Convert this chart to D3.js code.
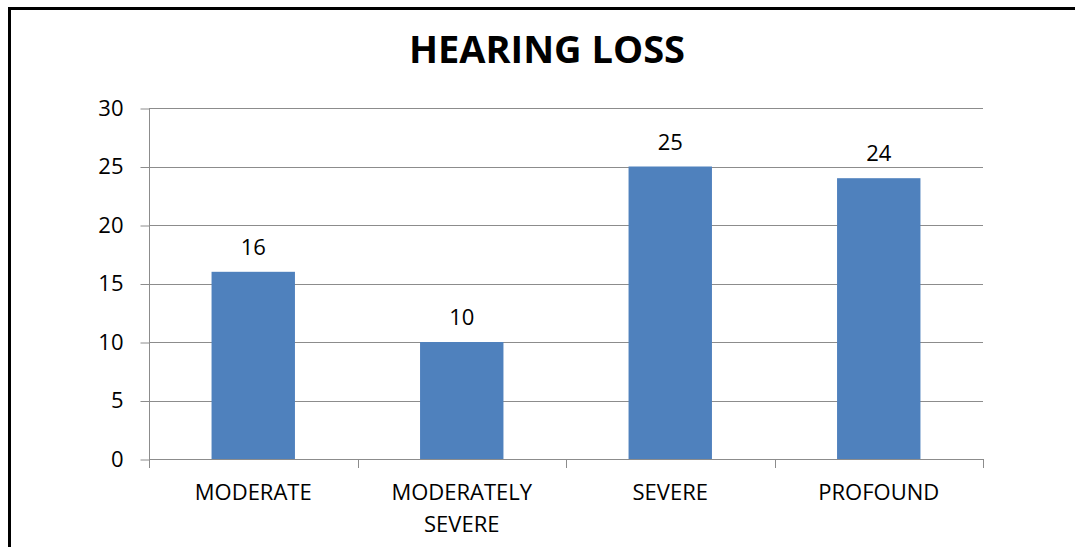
<!DOCTYPE html>
<html>
<head>
<meta charset="utf-8">
<script src="https://cdn.jsdelivr.net/npm/d3@7"></script>
<style>
  html, body { margin: 0; padding: 0; background: #fff; }
  svg { display: block; }
  text { font-family: "Open Sans", "Noto Sans", sans-serif; fill: #000; }
</style>
</head>
<body>
<svg id="chart" width="1075" height="547"></svg>
<script>
const title = "HEARING LOSS";
const categories = ["MODERATE", "MODERATELY SEVERE", "SEVERE", "PROFOUND"];
const values = [16, 10, 25, 24];
const yTicks = [0, 5, 10, 15, 20, 25, 30];

const svg = d3.select("#chart");
const W = 1075, H = 547;
const plot = { left: 149, right: 983, top: 108, bottom: 459 };

// frame
svg.append("line").attr("x1", 9.5).attr("x2", 9.5).attr("y1", 7).attr("y2", H)
  .attr("stroke", "#000").attr("stroke-width", 3);
svg.append("line").attr("x1", 8).attr("x2", W).attr("y1", 8.5).attr("y2", 8.5)
  .attr("stroke", "#000").attr("stroke-width", 3);

// title
svg.append("text").attr("x", 547).attr("y", 63)
  .attr("text-anchor", "middle")
  .style("font-size", "38px").style("font-weight", "bold")
  .text(title);

const x = d3.scaleBand().domain(categories)
  .range([plot.left, plot.right]).paddingInner(0.6).paddingOuter(0.3);
const y = d3.scaleLinear().domain([0, 30]).range([plot.bottom, plot.top]);

const gridColor = "#8c8c8c";

// gridlines
svg.append("g").selectAll("line").data(yTicks.filter(d => d > 0)).join("line")
  .attr("x1", plot.left).attr("x2", plot.right)
  .attr("y1", d => Math.round(y(d)) + 0.5).attr("y2", d => Math.round(y(d)) + 0.5)
  .attr("stroke", gridColor).attr("stroke-width", 1);

// y axis
const yAxis = d3.axisLeft(y).tickValues(yTicks).tickSize(9).tickPadding(17);
const gy = svg.append("g").attr("transform", `translate(${plot.left + 0.5},0.5)`).call(yAxis);
gy.select(".domain").remove();
gy.selectAll(".tick line").attr("stroke", gridColor);
gy.selectAll(".tick text").style("font-size", "22px").attr("fill", "#000")
  .style("font-family", '"Open Sans", sans-serif').attr("dy", "0.35em").attr("y", -1);
svg.append("line").attr("x1", plot.left + 0.5).attr("x2", plot.left + 0.5)
  .attr("y1", plot.top).attr("y2", plot.bottom + 9).attr("stroke", gridColor);

// x axis
svg.append("line").attr("x1", plot.left).attr("x2", plot.right)
  .attr("y1", plot.bottom + 0.5).attr("y2", plot.bottom + 0.5).attr("stroke", gridColor);
const boundaries = d3.range(categories.length + 1).map(i => plot.left + i * x.step());
svg.append("g").selectAll("line").data(boundaries.slice(1)).join("line")
  .attr("x1", d => Math.round(d) + 0.5).attr("x2", d => Math.round(d) + 0.5)
  .attr("y1", plot.bottom).attr("y2", plot.bottom + 9).attr("stroke", gridColor);

// bars
svg.append("g").selectAll("rect").data(values).join("rect")
  .attr("x", (d, i) => x(categories[i]))
  .attr("width", x.bandwidth())
  .attr("y", d => y(d))
  .attr("height", d => y(0) - y(d))
  .attr("fill", "#4F81BD");

// data labels
svg.append("g").selectAll("text").data(values).join("text")
  .attr("x", (d, i) => x(categories[i]) + x.bandwidth() / 2)
  .attr("y", d => y(d) - 17)
  .attr("text-anchor", "middle")
  .style("font-size", "22px")
  .text(d => d);

// category labels
const cl = svg.append("g").selectAll("text").data(categories).join("text")
  .attr("x", d => x(d) + x.bandwidth() / 2)
  .attr("y", 500)
  .attr("text-anchor", "middle")
  .style("font-size", "22px");
cl.each(function(d) {
  const words = d.split(" ");
  const t = d3.select(this);
  words.forEach((w, i) => {
    t.append("tspan").attr("x", x(d) + x.bandwidth() / 2)
      .attr("dy", i === 0 ? 0 : 32).text(w);
  });
});
</script>
</body>
</html>
